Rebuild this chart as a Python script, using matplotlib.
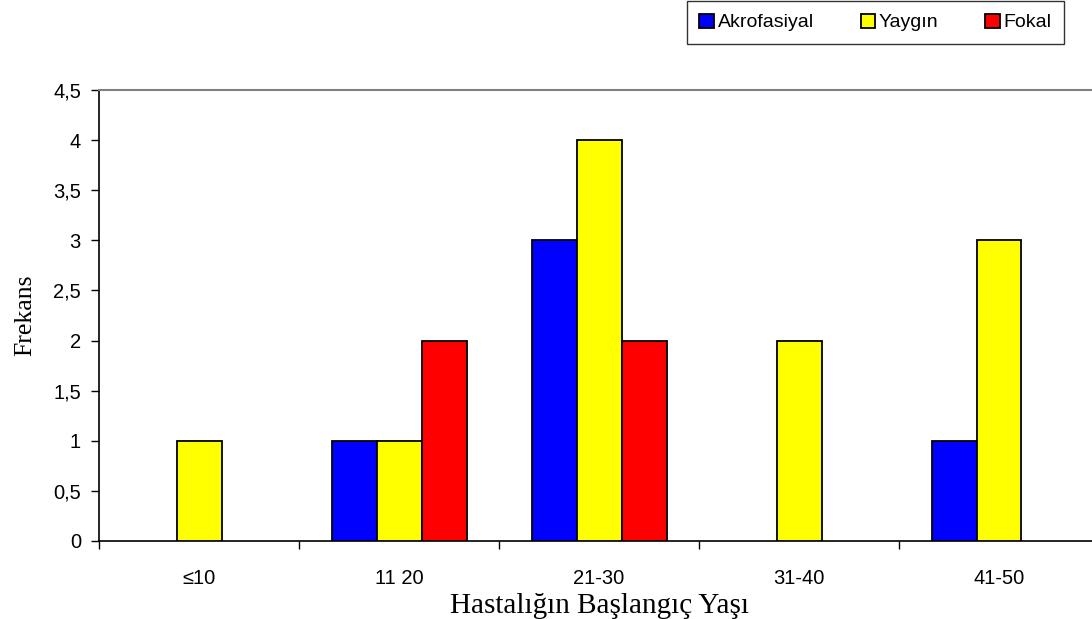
import matplotlib
matplotlib.use("Agg")
import matplotlib.pyplot as plt
import numpy as np

categories = ["≤10", "11 20", "21-30", "31-40", "41-50"]
akrofasiyal = [0, 1, 3, 0, 1]
yaygin = [1, 1, 4, 2, 3]
fokal = [0, 2, 2, 0, 0]
series_names = ["Akrofasiyal", "Yaygın", "Fokal"]
colors = ["#0000FF", "#FFFF00", "#FF0000"]
yticks = [0, 0.5, 1, 1.5, 2, 2.5, 3, 3.5, 4, 4.5]
ytick_labels = ["0", "0,5", "1", "1,5", "2", "2,5", "3", "3,5", "4", "4,5"]

sans = ["Liberation Sans", "DejaVu Sans"]
serif = ["Liberation Serif", "DejaVu Serif"]

fig = plt.figure(figsize=(10.92, 6.19), dpi=100)
ax = fig.add_axes([99/1092, 78/619, 1000/1092, 451/619])

x = np.arange(len(categories))
w = 0.225
for i, (vals, name, c) in enumerate(zip([akrofasiyal, yaygin, fokal], series_names, colors)):
    vals = np.array(vals, dtype=float)
    h = np.where(vals > 0, vals, np.nan)
    ax.bar(x + (i - 1) * w, h, width=w, color=c, edgecolor="black",
           linewidth=1.3, label=name, zorder=3)

ax.set_xlim(-0.5, len(categories) - 0.5)
ax.set_ylim(0, 4.5)
ax.set_yticks(yticks)
ax.set_yticklabels(ytick_labels, fontfamily=sans, fontsize=14.5)
ax.set_xticks(x)
ax.set_xticklabels(categories, fontfamily=sans, fontsize=14.5)
ax.set_xticks(np.arange(-0.5, len(categories), 1), minor=True)
ax.tick_params(axis="x", which="major", length=0, pad=20.5)
ax.tick_params(axis="x", which="minor", length=6, width=1, direction="out")
ax.tick_params(axis="y", length=6, width=1, direction="out", pad=7)

for s in ["left", "bottom"]:
    ax.spines[s].set_linewidth(1.2)
    ax.spines[s].set_color("black")
ax.spines["top"].set_color("#808080")
ax.spines["top"].set_linewidth(1.5)
ax.spines["right"].set_visible(False)

ax.set_xlabel("Hastalığın Başlangıç Yaşı", fontfamily=serif, fontsize=21, labelpad=3)
ax.set_ylabel("Frekans", fontfamily=serif, fontsize=18.5, labelpad=12)

handles, labels = ax.get_legend_handles_labels()
leg = fig.legend(handles, labels, ncol=3, loc="center",
                 bbox_to_anchor=(683/1092, 576/619, 385/1092, 41/619),
                 frameon=True, fancybox=False, edgecolor="black",
                 prop={"family": sans, "size": 14},
                 handlelength=0.75, handleheight=0.75, handletextpad=0.2,
                 columnspacing=2.4, borderpad=0.62)
leg.get_frame().set_linewidth(1.0)

fig.savefig("out.png", dpi=100)
